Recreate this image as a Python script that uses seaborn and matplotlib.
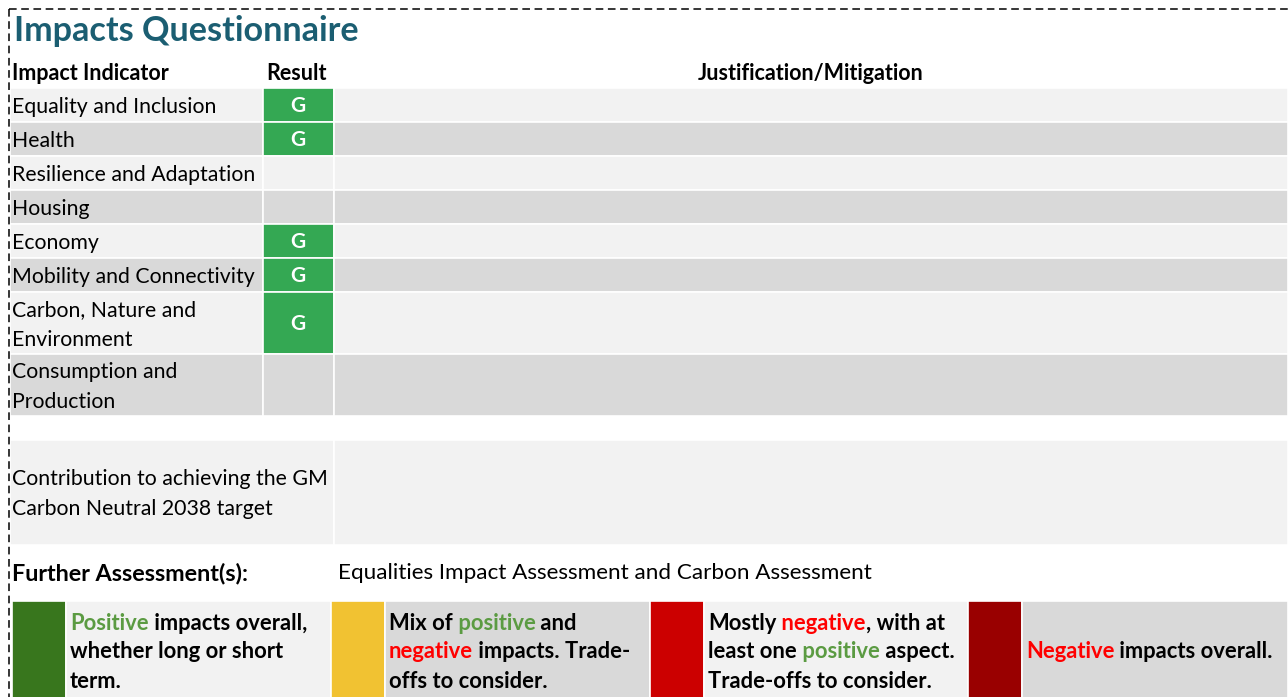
# Impacts questionnaire table, rebuilt as a chart
import matplotlib
matplotlib.use('Agg')
import matplotlib.pyplot as plt
import seaborn as sns

# ---- data ----
title = 'Impacts Questionnaire'
headers = ['Impact Indicator', 'Result', 'Justification/Mitigation']
indicators = ['Equality and Inclusion', 'Health', 'Resilience and Adaptation', 'Housing',
              'Economy', 'Mobility and Connectivity', 'Carbon, Nature and\nEnvironment',
              'Consumption and\nProduction']
results = ['G', 'G', '', '', 'G', 'G', 'G', '']
contribution = 'Contribution to achieving the GM\nCarbon Neutral 2038 target'
further_label = 'Further Assessment(s):'
further_text = 'Equalities Impact Assessment and Carbon Assessment'

POS, NEG, BLK = '#5B9B42', '#FF0000', '#000000'
legend_swatch = ['#38761D', '#F1C232', '#CC0000', '#990000']
legend_lines = [
    [[('Positive', POS), (' impacts overall,', BLK)],
     [('whether long or short', BLK)],
     [('term.', BLK)]],
    [[('Mix of', BLK), (' positive', POS), (' and', BLK)],
     [('negative', NEG), (' impacts. Trade-', BLK)],
     [('offs to consider.', BLK)]],
    [[('Mostly', BLK), (' negative', NEG), (', with at', BLK)],
     [('least one', BLK), (' positive', POS), (' aspect.', BLK)],
     [('Trade-offs to consider.', BLK)]],
    [[],
     [('Negative', NEG), (' impacts overall.', BLK)],
     []],
]

# ---- style ----
sns.set_theme(style='white')
plt.rcParams['font.family'] = ['Lato', 'DejaVu Sans']
plt.rcParams['text.color'] = 'black'

LIGHT, DARK, GREEN = '#F2F2F2', '#D9D9D9', '#34A853'
W, H = 1288, 697
fig = plt.figure(figsize=(W / 100, H / 100), dpi=100)
ax = fig.add_axes([0, 0, 1, 1])
ax.set_xlim(0, W)
ax.set_ylim(H, 0)
ax.axis('off')

col_x = [10, 263, 334, W]
fs = 15.3
LS = 29.5  # line step in pixels

def cell(x0, x1, y0, y1, color):
    ax.barh((y0 + y1) / 2, x1 - x0, height=y1 - y0, left=x0, color=color,
            edgecolor='white', linewidth=1.2)

def lines_text(x, yc, text, **kw):
    parts = text.split('\n')
    y0 = yc - LS * (len(parts) - 1) / 2
    for j, p in enumerate(parts):
        ax.text(x, y0 + j * LS, p, va='center', **kw)

# dashed frame
ax.plot([9, W], [9, 9], color='black', lw=1.1, ls=(0, (5, 3)))
ax.plot([9, 9], [9, H], color='black', lw=1.1, ls=(0, (5, 3)))

ax.text(14, 31, title, fontsize=24.6, fontweight='bold', color='#1B5E72', va='center')

ax.text(12, 73, headers[0], fontsize=15.5, fontweight='bold', va='center')
ax.text(297, 73, headers[1], fontsize=15.5, fontweight='bold', va='center', ha='center')
ax.text(811, 73, headers[2], fontsize=15.5, fontweight='bold', va='center', ha='center')

y = 88
for i, (name, res) in enumerate(zip(indicators, results)):
    n = name.count('\n') + 1
    h = 34 + 28 * (n - 1)
    bg = LIGHT if i % 2 == 0 else DARK
    cell(col_x[0], col_x[1], y, y + h, bg)
    cell(col_x[1], col_x[2], y, y + h, GREEN if res else bg)
    cell(col_x[2], col_x[3], y, y + h, bg)
    lines_text(12, y + h / 2 + 2, name, fontsize=fs)
    if res:
        ax.text(298, y + h / 2 + 1, res, fontsize=15, fontweight='bold', color='white',
                va='center', ha='center')
    y += h

# contribution row
cell(col_x[0], col_x[2], 440, 545, LIGHT)
cell(col_x[2], col_x[3], 440, 545, LIGHT)
lines_text(12, 494, contribution, fontsize=fs)

ax.text(12, 573, further_label, fontsize=16.8, fontweight='bold', va='center')
ax.text(338, 573, further_text, fontsize=16.2, va='center')

# legend strip
renderer = fig.canvas.get_renderer()
lx = [12, 331, 650, 968, W]
line_y = [623, 652, 681]
for k, (sw, lines) in enumerate(zip(legend_swatch, legend_lines)):
    x0, x1 = lx[k], lx[k + 1]
    cell(x0, x0 + 54, 601, H + 5, sw)
    cell(x0 + 54, x1, 601, H + 5, LIGHT if k % 2 == 0 else DARK)
    for ly, runs in zip(line_y, lines):
        x = x0 + 58
        for txt, col in runs:
            t = ax.text(x, ly, txt, fontsize=15.8, fontweight='bold', color=col, va='center')
            bb = t.get_window_extent(renderer)
            x = ax.transData.inverted().transform((bb.x1, bb.y0))[0]

fig.savefig('out.png', dpi=100)
